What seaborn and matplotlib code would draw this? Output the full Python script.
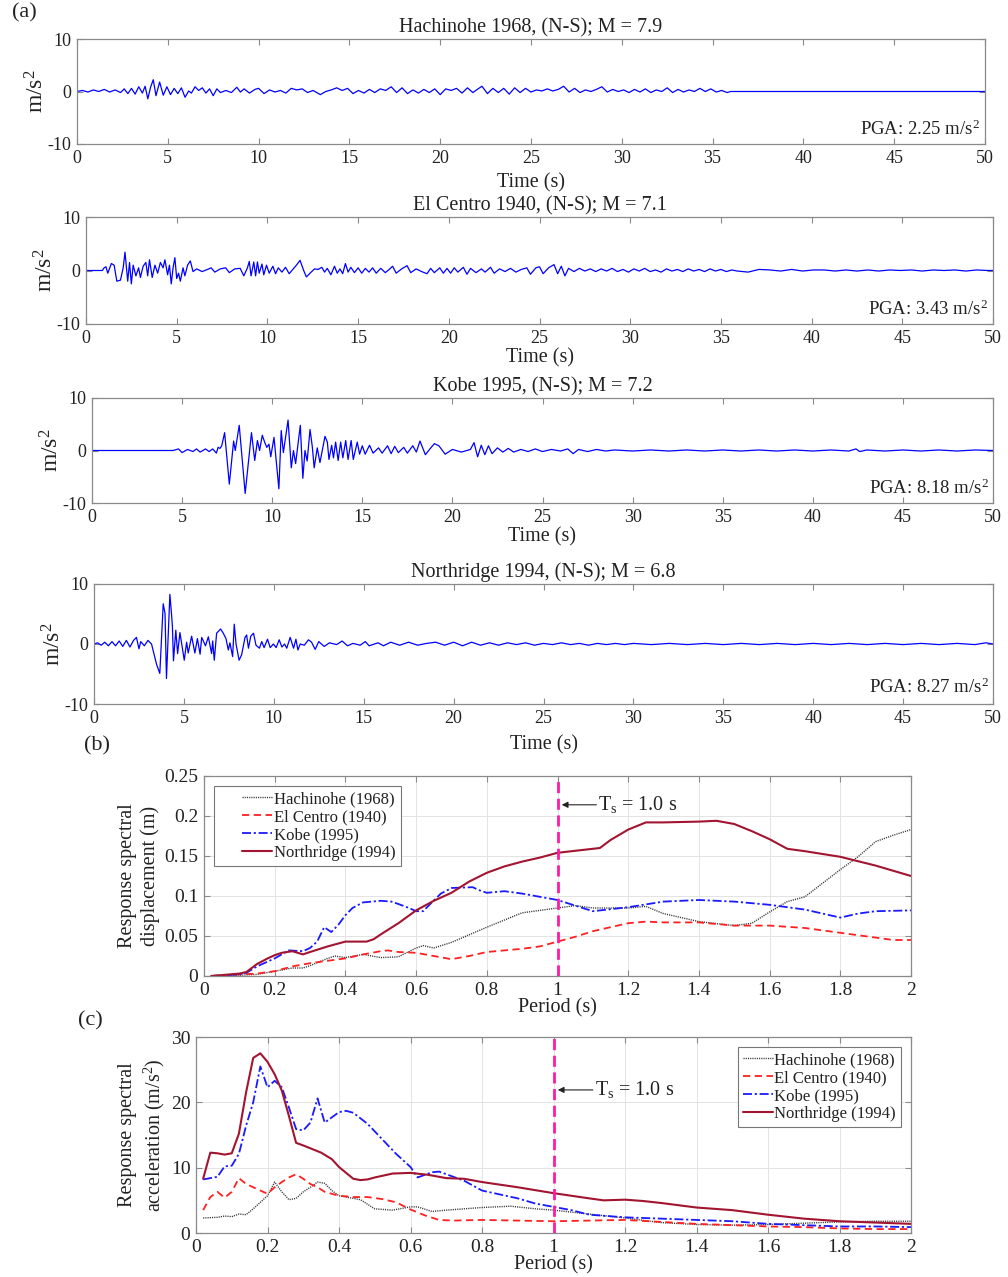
import numpy as np
import pandas as pd
import matplotlib
matplotlib.use("Agg")
import matplotlib.pyplot as plt
from matplotlib.ticker import FuncFormatter
from matplotlib.lines import Line2D
from matplotlib.legend_handler import HandlerLine2D
import seaborn as sns

# ---------------- ground-motion records (turning points, m/s^2) ----------------
hach_t = [0.0, 0.3, 0.6, 0.9, 1.2, 1.5, 1.8, 2.1, 2.4, 2.6, 2.8, 3.0, 3.2, 3.4, 3.6, 3.75, 3.9, 4.05,
          4.2, 4.35, 4.55, 4.75, 4.95, 5.15, 5.35, 5.55, 5.75, 5.95, 6.15, 6.3, 6.5, 6.7, 6.9, 7.1,
          7.3, 7.5, 7.7, 7.9, 8.2, 8.5, 8.8, 9.0, 9.2, 9.5, 9.8, 10.0, 10.3, 10.6, 10.9, 11.2, 11.5,
          11.8, 12.1, 12.4, 12.7, 13.0, 13.4, 13.7, 14.0, 14.3, 14.6, 14.9, 15.2, 15.5, 15.8, 16.1,
          16.4, 16.7, 17.0, 17.3, 17.6, 17.9, 18.2, 18.5, 18.8, 19.1, 19.4, 19.7, 20.0, 20.3, 20.6,
          20.9, 21.2, 21.5, 21.8, 22.0, 22.3, 22.6, 22.9, 23.2, 23.5, 23.8, 24.1, 24.4, 24.7, 25.0,
          25.3, 25.6, 25.9, 26.2, 26.5, 26.8, 27.1, 27.4, 27.7, 28.0, 28.3, 28.6, 28.9, 29.2, 29.5,
          29.8, 30.1, 30.4, 30.7, 31.0, 31.3, 31.6, 31.9, 32.2, 32.5, 32.8, 33.1, 33.4, 33.7, 34.0,
          34.3, 34.6, 34.9, 35.2, 35.5, 35.8, 36.0, 50.0]
hach_a = [0.0, 0.2, -0.1, 0.3, 0.0, 0.4, -0.1, 0.3, -0.2, 0.5, -0.4, 0.6, -0.5, 0.9, -0.3, 1.0, -1.4, 0.8,
          2.25, -0.8, 1.8, -0.7, 0.9, -0.6, 0.6, -0.4, 0.7, -1.1, 0.1, -0.3, 0.9, 0.2, 0.7, -0.3,
          0.5, -0.8, 0.5, -0.2, 0.2, -0.2, 0.8, -0.1, 0.5, -0.3, 0.4, 0.6, -0.4, 0.3, -0.1, 0.2, -0.3,
          0.6, 0.3, 0.5, -0.2, 0.2, -0.6, 0.0, 0.3, 0.7, 0.2, 0.6, -0.4, 0.2, -0.3, 0.4,
          -0.2, 0.5, 0.2, 0.9, -0.2, 0.7, -0.4, 0.3, -0.3, 0.4, -0.2, 0.5, -0.6, 0.5, 0.2,
          0.6, -0.3, 0.7, -0.2, 0.3, 1.0, -0.4, 0.6, -0.2, 0.6, -0.5, 0.7, -0.2, 0.6, -0.1,
          0.3, 0.1, 0.5, 0.1, 0.4, 1.0, -0.1, 0.6, -0.2, 0.3, 0.0, 0.4, 0.9, -0.1, 0.4,
          0.0, 0.3, -0.2, 0.4, -0.1, 0.5, -0.2, 0.3, 0.0, 0.7, -0.2, 0.4, -0.1, 0.3, 0.0,
          0.6, 0.0, 0.5, -0.1, 0.2, -0.2, 0.0, 0.0]

elc_t = [0.0, 0.9, 1.0, 1.1, 1.2, 1.4, 1.55, 1.7, 1.9, 2.05, 2.15, 2.3, 2.4, 2.5, 2.6, 2.75, 2.9, 3.0,
         3.15, 3.3, 3.4, 3.5, 3.65, 3.8, 3.95, 4.1, 4.25, 4.35, 4.5, 4.6, 4.7, 4.8, 4.9, 5.0, 5.1,
         5.2, 5.35, 5.45, 5.6, 5.75, 5.9, 6.1, 6.4, 6.7, 6.9, 7.1, 7.4, 7.7, 7.9, 8.2, 8.5, 8.7,
         8.9, 9.0, 9.1, 9.25, 9.35, 9.45, 9.55, 9.7, 9.8, 9.95, 10.1, 10.3, 10.45, 10.6, 10.8,
         11.0, 11.2, 11.4, 11.6, 11.8, 12.0, 12.15, 12.35, 12.6, 12.8, 13.0, 13.15, 13.3, 13.5,
         13.7, 13.85, 14.0, 14.15, 14.3, 14.45, 14.6, 14.8, 15.0, 15.2, 15.4, 15.6, 15.8, 16.0,
         16.25, 16.5, 16.75, 16.9, 17.1, 17.4, 17.7, 17.9, 18.2, 18.5, 18.8, 19.0, 19.2, 19.5,
         19.7, 19.9, 20.1, 20.3, 20.5, 20.8, 21.0, 21.2, 21.5, 21.8, 22.0, 22.3, 22.5, 22.8,
         23.1, 23.4, 23.7, 24.0, 24.3, 24.5, 24.8, 25.0, 25.2, 25.5, 25.8, 26.0, 26.2, 26.4,
         26.6, 26.9, 27.2, 27.5, 27.8, 28.1, 28.4, 28.7, 29.0, 29.3, 29.6, 29.9, 30.2, 30.5,
         30.8, 31.1, 31.4, 31.7, 32.0, 32.3, 32.6, 32.9, 33.2, 33.5, 33.8, 34.1, 34.4, 34.7,
         35.0, 35.3, 35.6, 35.9, 36.5, 37.1, 37.7, 38.3, 38.9, 39.5, 40.1, 40.7, 41.3, 41.9,
         42.5, 43.1, 43.7, 44.3, 44.9, 45.5, 46.1, 46.7, 47.3, 47.9, 48.5, 49.1, 49.7, 50.0]
elc_a = [0.0, 0.0, 0.5, 0.7, -0.5, 1.3, 1.0, -2.0, -1.8, 0.5, 3.43, -2.0, 1.5, -2.5, 1.0, -1.0, 0.5, -1.3,
         0.8, 1.5, -1.0, 2.0, -1.3, 1.0, -0.5, 1.5, 0.5, 2.0, -0.8, 1.0, -2.5, 0.5, 2.4, -1.5, -0.5,
         -2.0, 0.5, -1.0, 1.0, 1.8, -0.2, 0.3, -0.2, 0.2, 0.5, -0.3, 0.3, 0.5, -0.4, 0.3, 0.4, -1.0,
         0.5, 1.7, -1.0, 1.6, -1.0, 1.6, -0.5, 1.2, -0.8, 1.0, -0.5, 0.8, -0.6, 0.5, -0.3,
         0.6, -0.6, 0.2, 1.0, 1.9, 0.0, -1.2, -0.5, 0.3, 0.2, 0.6, -0.3, 0.4, -0.8,
         0.8, -0.5, 0.3, -0.6, 1.3, -0.3, 0.6, -0.4, 0.5, -0.5, 0.4, -0.3, 0.5, -0.5,
         0.4, -0.4, 0.3, 0.8, -0.5, 0.3, 0.9, -0.4, 0.3, -0.2, -0.6, 0.4, -0.4, 0.5,
         -0.5, 0.4, -0.5, 0.5, -0.3, 0.6, -0.7, 0.4, -0.4, 0.3, -0.3, 0.6, -0.5, 0.3,
         -0.2, 0.4, -0.3, 0.2, 0.5, -0.7, 0.5, 0.7, -0.6, 0.5, 1.1, -0.6, 0.8, -1.0,
         0.4, -0.2, 0.4, -0.1, 0.3, -0.2, 0.3, -0.1, 0.4, -0.2, 0.2, -0.3, 0.3, -0.1,
         0.4, -0.2, 0.1, -0.3, 0.3, -0.1, 0.2, -0.2, 0.3, -0.1, 0.2, -0.2, 0.3, -0.1,
         0.2, -0.2, 0.1, -0.1, -0.3, 0.2, 0.1, -0.1, 0.2, -0.1, 0.1, 0.1, -0.1, 0.1,
         -0.1, 0.1, -0.1, 0.1, 0.0, 0.1, -0.1, 0.1, 0.0, 0.1, -0.1, 0.1, 0.0, 0.0]

kobe_t = [0.0, 4.5, 4.8, 5.0, 5.3, 5.6, 5.8, 6.0, 6.3, 6.5, 6.7, 6.9, 7.0, 7.1, 7.2, 7.36, 7.62, 7.86,
          7.95, 8.17, 8.5, 8.85, 9.03, 9.18, 9.3, 9.45, 9.58, 9.7, 9.82, 9.92, 10.1, 10.37, 10.5,
          10.62, 10.88, 11.06, 11.18, 11.3, 11.56, 11.7, 11.82, 11.94, 12.1, 12.23, 12.33, 12.5,
          12.65, 12.93, 13.06, 13.15, 13.3, 13.4, 13.52, 13.66, 13.8, 13.92, 14.08, 14.21, 14.38,
          14.5, 14.72, 14.85, 15.0, 15.16, 15.4, 15.6, 15.9, 16.1, 16.4, 16.6, 16.8, 17.0, 17.3,
          17.5, 17.8, 18.0, 18.2, 18.5, 18.8, 19.0, 19.25, 19.6, 20.0, 20.5, 21.0, 21.2, 21.4,
          21.6, 21.8, 22.0, 22.2, 22.5, 22.8, 23.1, 23.4, 23.8, 24.2, 24.6, 25.0, 25.5, 26.0,
          26.4, 26.7, 27.0, 27.5, 28.0, 28.5, 29.0, 30.0, 31.0, 32.0, 33.0, 34.0, 35.0, 36.0,
          37.0, 38.0, 39.0, 40.0, 41.0, 42.0, 42.4, 42.6, 43.0, 44.0, 45.0, 46.0, 47.0, 48.0,
          49.0, 50.0]
kobe_a = [0.0, 0.0, 0.3, -0.4, 0.2, -0.2, 0.3, -0.3, 0.3, -0.2, 0.3, -0.5, 0.6, 0.4, 0.9, 3.4, -6.4, 1.8,
          0.0, 4.8, -8.18, 3.4, -1.9, 1.9, 0.0, 2.9, 1.6, 0.6, 1.2, -1.2, 2.5, -7.3, 3.8,
          -0.4, 5.8, -3.3, 0.0, -2.5, 4.8, -5.3, 0.0, -2.0, 4.0, 0.6, -3.3, 0.5,
          -2.3, 2.7, 1.6, -1.7, 1.0, -1.4, 1.6, -1.9, 1.6, -1.4, 1.9, -1.7, 1.9,
          -1.7, 1.6, -0.7, 0.9, -0.7, 1.0, -0.5, 0.5, -0.5, 0.9, -0.6, 0.8, -0.4, 0.6,
          -0.5, 0.9, -0.3, 1.8, -0.8, 0.5, 1.3, 0.9, -0.7, 0.2, -0.3, 0.2, 1.5, -1.2,
          1.0, -0.8, 0.9, -0.6, 0.5, -0.3, 0.4, -0.3, 0.2, -0.2, 0.3, -0.2, 0.2, -0.1,
          0.3, -0.6, 0.2, -0.2, 0.2, -0.1, 0.1, -0.1, 0.1, -0.1, 0.1, -0.1, 0.1, -0.1,
          0.1, -0.1, 0.1, -0.1, 0.1, -0.1, 0.3, -0.2, 0.1, -0.1, 0.1, -0.1, 0.1, -0.1,
          0.1, 0.0]

nort_t = [0.0, 0.2, 0.4, 0.6, 0.8, 1.0, 1.2, 1.4, 1.6, 1.8, 2.0, 2.2, 2.36, 2.5, 2.6, 2.8, 3.0, 3.2,
          3.48, 3.66, 3.85, 3.95, 4.03, 4.22, 4.3, 4.36, 4.42, 4.55, 4.65, 4.78, 5.02, 5.15, 5.24,
          5.43, 5.61, 5.75, 5.9, 5.99, 6.2, 6.36, 6.54, 6.6, 6.69, 6.82, 7.04, 7.19, 7.34, 7.47,
          7.56, 7.71, 7.8, 7.9, 8.07, 8.21, 8.4, 8.49, 8.59, 8.72, 8.87, 9.01, 9.2, 9.33, 9.46,
          9.65, 9.8, 9.98, 10.13, 10.3, 10.45, 10.6, 10.72, 10.91, 11.1, 11.23, 11.34, 11.47,
          11.7, 11.93, 12.1, 12.3, 12.5, 12.8, 13.1, 13.5, 13.8, 14.1, 14.4, 14.8, 15.09, 15.3,
          15.8, 16.1, 16.5, 17.0, 17.5, 18.0, 18.5, 19.0, 19.5, 20.0, 20.5, 21.0, 21.5, 22.0,
          22.5, 23.0, 23.5, 24.0, 24.5, 25.0, 25.5, 26.0, 26.5, 27.0, 27.5, 28.0, 28.5, 29.0,
          29.5, 30.0, 31.0, 32.0, 33.0, 34.0, 35.0, 36.0, 37.0, 38.0, 39.0, 40.0, 41.0, 42.0,
          43.0, 44.0, 45.0, 46.0, 47.0, 48.0, 49.0, 49.6, 50.0]
nort_a = [0.0, 0.2, -0.2, 0.3, -0.3, 0.4, -0.3, 0.5, -0.4, 0.6, -0.5, 0.6, 1.1, -0.8, 0.4, -0.3, 0.6, 0.0,
          -3.4, -4.9, 6.7, 5.1, -5.75, 8.27, 5.4, 3.0, -2.8, 2.3, -1.6, 1.9, -2.7, 0.3, -1.5,
          1.3, -1.5, 0.9, -1.7, 1.1, -0.3, 1.2, -1.6, 0.5, -2.7, 1.8, 2.5, 1.8, 0.9, -1.0,
          0.2, -2.1, 3.3, 0.0, -2.7, -1.8, 1.1, 1.5, -0.7, 1.3, 1.8, -0.2, -0.7, 0.4, -0.6,
          0.8, -0.6, 0.0, -0.6, 0.7, -0.5, 0.0, -0.7, 1.1, -0.7, 0.8, -1.0, 0.0,
          -0.2, 0.7, 0.3, -0.9, 0.4, -0.4, 0.2, -0.1, 0.5, -0.3, 0.1, -0.2, 0.4, -0.3,
          0.2, -0.3, 0.3, -0.2, 0.3, -0.2, 0.1, 0.3, -0.2, 0.3, -0.3, 0.3, -0.2, 0.2,
          -0.2, 0.2, -0.1, 0.2, -0.2, 0.1, -0.1, 0.2, -0.1, 0.1, -0.2, 0.1, -0.1, 0.1,
          -0.1, 0.1, -0.1, 0.1, -0.1, 0.1, -0.1, 0.1, -0.1, 0.1, -0.1, 0.1, -0.1, 0.1,
          -0.1, 0.1, -0.1, 0.1, -0.1, 0.1, -0.1, 0.2, 0.0]

records = [
    ("Hachinohe 1968, (N-S); M = 7.9", hach_t, hach_a, "PGA: 2.25 m/s$^2$"),
    ("El Centro 1940, (N-S); M = 7.1", elc_t, elc_a, "PGA: 3.43 m/s$^2$"),
    ("Kobe 1995, (N-S); M = 7.2", kobe_t, kobe_a, "PGA: 8.18 m/s$^2$"),
    ("Northridge 1994, (N-S); M = 6.8", nort_t, nort_a, "PGA: 8.27 m/s$^2$"),
]

# ---------------- response spectra ----------------
sd_hach_T = [0.02, 0.1, 0.15, 0.2, 0.25, 0.28, 0.3, 0.35, 0.37, 0.4, 0.45, 0.5, 0.55, 0.6, 0.62, 0.65,
             0.7, 0.8, 0.9, 0.95, 1.0, 1.05, 1.1, 1.2, 1.25, 1.3, 1.4, 1.5, 1.55, 1.6, 1.65, 1.7, 1.8,
             1.85, 1.9, 1.95, 2.0]
sd_hach = [0.0, 0.001, 0.002, 0.006, 0.010, 0.010, 0.013, 0.022, 0.025, 0.023, 0.027, 0.023, 0.024,
           0.035, 0.038, 0.035, 0.042, 0.061, 0.079, 0.082, 0.085, 0.088, 0.085, 0.085, 0.087, 0.078,
           0.068, 0.063, 0.066, 0.080, 0.093, 0.099, 0.133, 0.149, 0.168, 0.176, 0.183]
sd_elc_T = [0.02, 0.1, 0.15, 0.2, 0.25, 0.3, 0.35, 0.4, 0.45, 0.5, 0.52, 0.55, 0.6, 0.65, 0.7, 0.75,
            0.8, 0.9, 0.95, 1.0, 1.05, 1.1, 1.2, 1.25, 1.3, 1.4, 1.5, 1.6, 1.7, 1.8, 1.9, 1.95, 2.0]
sd_elc = [0.0, 0.002, 0.003, 0.006, 0.012, 0.016, 0.019, 0.022, 0.027, 0.031, 0.032, 0.030, 0.029,
          0.025, 0.021, 0.025, 0.030, 0.034, 0.037, 0.043, 0.049, 0.056, 0.066, 0.068, 0.067, 0.067,
          0.063, 0.063, 0.060, 0.054, 0.048, 0.045, 0.045]
sd_kobe_T = [0.02, 0.1, 0.12, 0.15, 0.2, 0.22, 0.24, 0.28, 0.3, 0.32, 0.34, 0.36, 0.38, 0.4, 0.42,
             0.45, 0.5, 0.53, 0.55, 0.58, 0.6, 0.62, 0.64, 0.67, 0.7, 0.76, 0.78, 0.8, 0.85, 0.9,
             0.95, 1.0, 1.1, 1.2, 1.3, 1.4, 1.5, 1.6, 1.7, 1.8, 1.85, 1.9, 2.0]
sd_kobe = [0.0, 0.002, 0.004, 0.012, 0.022, 0.027, 0.032, 0.031, 0.035, 0.043, 0.061, 0.055, 0.064,
           0.076, 0.085, 0.092, 0.094, 0.093, 0.090, 0.085, 0.081, 0.081, 0.090, 0.103, 0.110, 0.111,
           0.107, 0.104, 0.106, 0.103, 0.099, 0.095, 0.081, 0.086, 0.093, 0.095, 0.093, 0.089,
           0.083, 0.073, 0.078, 0.081, 0.082]
sd_nort_T = [0.02, 0.1, 0.12, 0.15, 0.18, 0.2, 0.22, 0.25, 0.28, 0.3, 0.35, 0.4, 0.46, 0.48, 0.5,
             0.55, 0.6, 0.65, 0.7, 0.75, 0.8, 0.85, 0.9, 0.95, 1.0, 1.1, 1.12, 1.15, 1.2, 1.25, 1.3,
             1.4, 1.45, 1.5, 1.55, 1.6, 1.65, 1.7, 1.8, 1.9, 2.0]
sd_nort = [0.0, 0.003, 0.005, 0.015, 0.022, 0.026, 0.029, 0.031, 0.027, 0.030, 0.037, 0.043, 0.043,
           0.046, 0.052, 0.066, 0.082, 0.094, 0.104, 0.118, 0.129, 0.137, 0.143, 0.148, 0.154,
           0.159, 0.160, 0.170, 0.183, 0.192, 0.192, 0.193, 0.194, 0.190, 0.181, 0.171, 0.159,
           0.156, 0.149, 0.138, 0.125]

sa_hach_T = [0.02, 0.06, 0.08, 0.1, 0.12, 0.14, 0.16, 0.18, 0.2, 0.22, 0.24, 0.26, 0.28, 0.3, 0.32,
             0.34, 0.36, 0.38, 0.4, 0.44, 0.46, 0.5, 0.55, 0.6, 0.62, 0.66, 0.7, 0.8, 0.88, 0.95,
             1.0, 1.1, 1.2, 1.3, 1.4, 1.5, 1.6, 1.7, 1.8, 1.9, 2.0]
sa_hach = [2.3, 2.4, 2.6, 2.5, 2.9, 2.8, 3.7, 4.7, 5.7, 7.8, 6.3, 5.1, 5.3, 6.3, 7.0, 7.8, 7.6, 6.5,
           5.7, 5.3, 5.1, 3.7, 3.5, 4.0, 4.0, 3.3, 3.5, 3.9, 4.1, 3.7, 3.5, 2.9, 2.3, 1.6, 1.3, 1.2,
           1.3, 1.5, 1.7, 1.8, 1.8]
sa_elc_T = [0.02, 0.04, 0.06, 0.08, 0.1, 0.12, 0.14, 0.16, 0.18, 0.2, 0.22, 0.24, 0.26, 0.28, 0.3,
            0.32, 0.34, 0.36, 0.4, 0.44, 0.48, 0.52, 0.56, 0.6, 0.64, 0.68, 0.72, 0.8, 0.9, 1.0,
            1.2, 1.3, 1.4, 1.5, 1.6, 1.7, 1.8, 1.9, 2.0]
sa_elc = [3.5, 5.5, 6.3, 5.4, 6.3, 8.4, 7.5, 7.0, 6.5, 6.0, 7.0, 7.8, 8.5, 9.0, 8.3, 7.5, 7.0, 6.3,
          5.7, 5.5, 5.5, 5.2, 4.7, 3.6, 2.7, 2.0, 1.9, 2.0, 1.9, 1.8, 2.0, 1.7, 1.4, 1.2, 1.0, 0.9,
          0.7, 0.6, 0.6]
sa_kobe_T = [0.02, 0.04, 0.06, 0.08, 0.1, 0.12, 0.14, 0.16, 0.18, 0.2, 0.22, 0.24, 0.26, 0.28, 0.3,
             0.32, 0.34, 0.36, 0.38, 0.4, 0.42, 0.44, 0.48, 0.52, 0.56, 0.6, 0.62, 0.64, 0.66, 0.68,
             0.7, 0.75, 0.8, 0.9, 0.95, 1.0, 1.05, 1.1, 1.2, 1.3, 1.4, 1.5, 1.6, 1.7, 1.8, 1.9, 2.0]
sa_kobe = [8.2, 8.4, 8.6, 10.2, 10.3, 12.1, 16.4, 20.0, 25.5, 22.3, 23.3, 22.3, 19.2, 15.9, 15.7,
           16.9, 20.6, 16.9, 17.7, 18.5, 18.7, 18.4, 16.7, 14.4, 12.1, 10.1, 8.5, 8.9, 9.3, 9.4,
           9.0, 8.0, 6.5, 5.3, 4.5, 4.0, 3.5, 2.8, 2.4, 2.2, 2.0, 1.8, 1.4, 1.2, 1.0, 1.0, 0.9]
sa_nort_T = [0.02, 0.04, 0.06, 0.08, 0.1, 0.12, 0.14, 0.16, 0.18, 0.2, 0.22, 0.24, 0.26, 0.28, 0.3,
             0.35, 0.38, 0.4, 0.44, 0.46, 0.48, 0.5, 0.55, 0.6, 0.65, 0.7, 0.75, 0.8, 0.9, 1.0, 1.1,
             1.14, 1.2, 1.25, 1.3, 1.4, 1.5, 1.6, 1.7, 1.8, 1.9, 2.0]
sa_nort = [8.3, 12.3, 12.2, 12.0, 12.2, 15.2, 21.5, 26.8, 27.5, 26.2, 24.3, 21.8, 17.9, 13.8, 13.4,
           12.3, 11.3, 10.1, 8.3, 8.1, 8.2, 8.5, 9.1, 9.2, 8.9, 8.4, 8.3, 7.8, 7.0, 6.1, 5.3, 5.0,
           5.1, 4.9, 4.6, 3.9, 3.5, 2.8, 2.2, 1.8, 1.6, 1.4]

series_names = ["Hachinohe (1968)", "El Centro (1940)", "Kobe (1995)", "Northridge (1994)"]
series_colors = ["#333333", "#ff2020", "#1a1aff", "#a2142f"]
series_dashes = [(0.8, 0.8), (4, 2.5), (5, 1.5, 1.2, 1.5), ()]
series_widths = [1.0, 1.3, 1.3, 1.5]

# ---------------- style ----------------
sns.set_theme(style="ticks")
plt.rcParams["font.family"] = ["Liberation Serif", "DejaVu Serif"]
plt.rcParams["mathtext.fontset"] = "custom"
plt.rcParams["mathtext.rm"] = "Liberation Serif"
plt.rcParams["mathtext.it"] = "Liberation Serif:italic"
plt.rcParams["mathtext.default"] = "rm"
plt.rcParams["axes.unicode_minus"] = False

EDGE = "#8a8a8a"
INK = "#222222"
fmt = FuncFormatter(lambda v, p: "%g" % round(v, 6))


def frame(ax, size):
    for s in ax.spines.values():
        s.set_color(EDGE)
        s.set_linewidth(0.9)
    ax.tick_params(direction="in", top=True, right=True, length=4, width=0.8,
                   color=EDGE, labelsize=size, labelcolor=INK, pad=4)


fig = plt.figure(figsize=(10.08, 12.77), dpi=100)
W, H = 1008.0, 1277.0


def box(l, t, r, b):
    return [l / W, 1 - b / H, (r - l) / W, (b - t) / H]


time_boxes = [(77, 39, 985, 144), (86, 217, 993, 324), (92, 398, 993, 503), (94, 584, 993, 704)]
time_label_pads = [5, 1, 1, 6]

for (title, tt, aa, pga), bx, lp in zip(records, time_boxes, time_label_pads):
    ax = fig.add_axes(box(*bx))
    df = pd.DataFrame({"t": tt, "a": aa})
    sns.lineplot(data=df, x="t", y="a", ax=ax, color="#0000ff", lw=0.9,
                 estimator=None, sort=False)
    ax.set_xlim(0, 50)
    ax.set_ylim(-10, 10)
    ax.set_xticks(np.arange(0, 51, 5))
    ax.set_yticks([-10, 0, 10])
    ax.xaxis.set_major_formatter(fmt)
    frame(ax, 13)
    ax.set_title(title, fontsize=14.5, pad=5, color=INK)
    ax.set_xlabel("Time (s)", fontsize=14.5, labelpad=lp, color=INK)
    ax.set_ylabel("m/s$^2$", fontsize=17, labelpad=-1, color=INK)
    ax.text(0.995, 0.14, pga, transform=ax.transAxes, ha="right", va="center",
            fontsize=13.5, color=INK)


def spectra(ax, curves, ylim, yticks, ylabel, ts_y, legend_loc, hlen, lead):
    for (T, v), name, c, d, w in zip(curves, series_names, series_colors,
                                     series_dashes, series_widths):
        df = pd.DataFrame({"T": T, "v": v})
        line = sns.lineplot(data=df, x="T", y="v", ax=ax, color=c, lw=w,
                            label=name, estimator=None).lines[-1]
        if d:
            line.set_dashes(d)
    ax.axvline(1.0, color="#ff1aa6", lw=2.0, ls=(0, (4, 2)), zorder=5)
    ax.set_xlim(0, 2)
    ax.set_ylim(*ylim)
    ax.set_xticks(np.arange(0, 2.01, 0.2))
    ax.set_yticks(yticks)
    ax.xaxis.set_major_formatter(fmt)
    ax.yaxis.set_major_formatter(fmt)
    ax.grid(True, color="#e3e3e3", lw=0.7)
    frame(ax, 14)
    ax.set_xlabel("Period (s)", fontsize=14.5, labelpad=0, color=INK)
    ax.set_ylabel(ylabel, fontsize=14.5, labelpad=3, color=INK, linespacing=1.25)
    ax.annotate("", xy=(1.012, ts_y), xytext=(1.11, ts_y),
                arrowprops=dict(arrowstyle="-|>", color=INK, lw=0.8,
                                mutation_scale=9, shrinkA=0, shrinkB=0))
    ax.text(1.115, ts_y, "T$_{\\mathrm{s}}$ = 1.0 s", fontsize=14.5, va="center",
            ha="left", color=INK)
    leg = ax.legend(loc=legend_loc, fontsize=12, handlelength=hlen,
                    handletextpad=0.1, labelspacing=0.12, borderpad=0.3,
                    fancybox=False, framealpha=1, borderaxespad=0.6,
                    handler_map={Line2D: HandlerLine2D(xpad=lead)})
    leg.get_frame().set_edgecolor("#777777")
    leg.get_frame().set_linewidth(0.8)
    for txt in leg.get_texts():
        txt.set_color(INK)


ax_b = fig.add_axes(box(204, 776, 911, 976))
spectra(ax_b, [(sd_hach_T, sd_hach), (sd_elc_T, sd_elc), (sd_kobe_T, sd_kobe), (sd_nort_T, sd_nort)],
        (0, 0.25), [0, 0.05, 0.1, 0.15, 0.2, 0.25],
        "Response spectral\ndisplacement (m)", 0.214, "upper left", 3.2, 1.4)

ax_c = fig.add_axes(box(196, 1037, 911, 1233))
spectra(ax_c, [(sa_hach_T, sa_hach), (sa_elc_T, sa_elc), (sa_kobe_T, sa_kobe), (sa_nort_T, sa_nort)],
        (0, 30), [0, 10, 20, 30],
        "Response spectral\nacceleration (m/s$^2$)", 21.9, "upper right", 1.8, 0.0)

fig.text(12 / W, 1 - 13 / H, "(a)", fontsize=16, va="center", ha="left", color=INK)
fig.text(84 / W, 1 - 746 / H, "(b)", fontsize=16, va="center", ha="left", color=INK)
fig.text(78 / W, 1 - 1021 / H, "(c)", fontsize=16, va="center", ha="left", color=INK)

fig.savefig("out.png", dpi=100, facecolor="white")
